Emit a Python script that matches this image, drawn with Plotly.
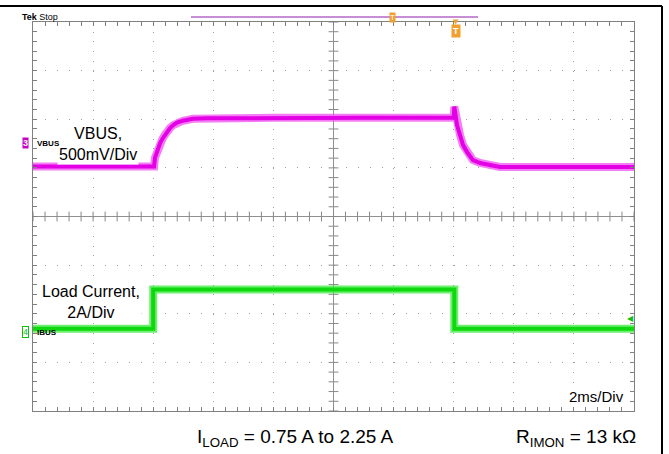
import plotly.graph_objects as go
import numpy as np

# ---- data (time in ms, amplitude in screen divisions from bottom) ----
vbus_t = [0, 4.03, 4.06, 4.15, 4.23, 4.31, 4.39, 4.47, 4.56, 4.67, 4.79, 4.99, 5.32, 5.79, 8.0, 11.0, 14.0,
          14.02, 14.11, 14.21, 14.31, 14.44, 14.64, 14.88, 15.21, 15.54, 20]
vbus_div = [5.03, 5.03, 5.21, 5.38, 5.51, 5.60, 5.68, 5.76, 5.82, 5.88, 5.93, 5.97, 6.01, 6.02, 6.03, 6.03, 6.03,
            6.26, 5.88, 5.68, 5.47, 5.33, 5.16, 5.10, 5.05, 5.02, 5.02]

ibus_t = [0, 4.0, 4.0, 14.02, 14.02, 20]
ibus_div = [1.69, 1.69, 2.50, 2.50, 1.69, 1.69]

ch3_ref = 5.51
ch4_ref = 1.62

X0, X1, Y0, Y1 = 33, 634, 22, 411
W, H = 669, 454
def px(x):
    return (x - X0) / (X1 - X0)
def py(y):
    return (Y1 - y) / (Y1 - Y0)

fig = go.Figure()

# center-line minor ticks
minor_y = np.arange(0, 8.001, 0.2)
minor_x = np.arange(0, 20.001, 0.4)
fig.add_trace(go.Scatter(x=[10]*len(minor_y), y=minor_y, mode="markers",
                         marker=dict(symbol="line-ew", size=7, line=dict(color="#888888", width=1)),
                         hoverinfo="skip", showlegend=False))
fig.add_trace(go.Scatter(x=minor_x, y=[4]*len(minor_x), mode="markers",
                         marker=dict(symbol="line-ns", size=7, line=dict(color="#888888", width=1)),
                         hoverinfo="skip", showlegend=False))

# VBUS (halo + core)
fig.add_trace(go.Scatter(x=vbus_t, y=vbus_div, mode="lines",
                         line=dict(color="rgba(240,80,240,0.75)", width=8), hoverinfo="skip", showlegend=False))
fig.add_trace(go.Scatter(x=vbus_t, y=vbus_div, mode="lines", name="VBUS",
                         line=dict(color="#e400e4", width=4), showlegend=False))
# IBUS (halo + core)
fig.add_trace(go.Scatter(x=ibus_t, y=ibus_div, mode="lines",
                         line=dict(color="rgba(60,235,60,0.75)", width=8), hoverinfo="skip", showlegend=False))
fig.add_trace(go.Scatter(x=ibus_t, y=ibus_div, mode="lines", name="IBUS",
                         line=dict(color="#10d810", width=4), showlegend=False))

fig.add_shape(type="line", x0=10, x1=10, y0=0, y1=8, line=dict(color="#909090", width=1), layer="below")
fig.add_shape(type="line", x0=0, x1=20, y0=4, y1=4, line=dict(color="#909090", width=1), layer="below")

# outer frame lines
fig.add_shape(type="line", xref="paper", yref="paper", x0=px(0), x1=px(662), y0=py(6), y1=py(6),
              line=dict(color="black", width=2))
fig.add_shape(type="line", xref="paper", yref="paper", x0=px(662), x1=px(662), y0=py(6), y1=py(454),
              line=dict(color="black", width=2))
# purple record bar
fig.add_shape(type="line", xref="paper", yref="paper", x0=px(191), x1=px(478), y0=py(17), y1=py(17),
              line=dict(color="#b468c8", width=1.5))

def A(**kw):
    d = dict(showarrow=False, yanchor="middle", xanchor="center")
    d.update(kw)
    return d

ann = []
ann.append(A(xref="paper", yref="paper", x=px(20), y=py(17), xanchor="left",
             text="<b>Tek</b> Stop", font=dict(family="Liberation Sans", size=9, color="black")))
# trigger markers
ann.append(A(xref="paper", yref="paper", x=px(392), y=py(18), text="T",
             font=dict(family="Liberation Sans", size=8, color="white"), bgcolor="#f0a030", borderpad=0))
ann.append(A(xref="paper", yref="paper", x=px(456), y=py(22.5), text="▼",
             font=dict(family="DejaVu Sans", size=7, color="#f0a030")))
ann.append(A(xref="paper", yref="paper", x=px(456), y=py(31.5), text="<b>T</b>",
             font=dict(family="Liberation Sans", size=9, color="white"), bgcolor="#f0a030", borderpad=1))
# labels
ann.append(A(xref="paper", yref="paper", x=px(98), y=py(144), text="VBUS,<br>500mV/Div",
             font=dict(family="Liberation Sans", size=16, color="black"), bgcolor="white", align="center"))
ann.append(A(xref="paper", yref="paper", x=px(91), y=py(302), text="Load Current,<br>2A/Div",
             font=dict(family="Liberation Sans", size=16, color="black"), bgcolor="white", align="center"))
ann.append(A(xref="paper", yref="paper", x=px(596), y=py(396), text="2ms/Div",
             font=dict(family="Liberation Sans", size=15, color="black")))
ann.append(A(xref="paper", yref="paper", x=px(195), y=py(438), xanchor="left", text="I<sub>LOAD</sub> = 0.75 A to 2.25 A",
             font=dict(family="Liberation Sans", size=19, color="black")))
ann.append(A(xref="paper", yref="paper", x=px(638), y=py(438), xanchor="right", text="R<sub>IMON</sub> = 13 kΩ",
             font=dict(family="Liberation Sans", size=19, color="black")))
# channel markers (drawn last, on top)
ann.append(A(xref="paper", yref="y", x=px(25), y=ch3_ref, text="<b>3</b>",
             font=dict(family="Liberation Sans", size=9, color="white"), bgcolor="#c800c8", borderpad=0))
ann.append(A(xref="paper", yref="y", x=px(35), y=ch3_ref, xanchor="left", text="<b>VBUS</b>",
             font=dict(family="Liberation Sans", size=8, color="black")))
ann.append(A(xref="paper", yref="y", x=px(25), y=ch4_ref, text="4",
             font=dict(family="Liberation Sans", size=9, color="#10c010"), bgcolor="white",
             bordercolor="#10c010", borderwidth=1, borderpad=0))
ann.append(A(xref="paper", yref="y", x=px(35), y=ch4_ref, xanchor="left", text="<b>IBUS</b>",
             font=dict(family="Liberation Sans", size=8, color="black")))
ann.append(A(xref="paper", yref="paper", x=px(630), y=py(318), text="◀",
             font=dict(family="DejaVu Sans", size=8, color="#10c010")))

axis_common = dict(showticklabels=False, zeroline=False, showline=True, linecolor="#808080", linewidth=1,
                   mirror="allticks", ticks="inside", ticklen=4, tickcolor="#808080",
                   showgrid=True, gridcolor="#a0a0a0", gridwidth=1)
fig.update_layout(
    width=W, height=H, margin=dict(l=X0, r=W - X1, t=Y0, b=H - Y1),
    paper_bgcolor="white", plot_bgcolor="white",
    xaxis=dict(range=[0, 20], dtick=2, griddash="1px,8.725px",
               minor=dict(dtick=0.4, ticks="inside", ticklen=4, tickcolor="#808080", showgrid=False),
               **axis_common),
    yaxis=dict(range=[0, 8], dtick=1, griddash="1px,11.02px",
               minor=dict(dtick=0.2, ticks="inside", ticklen=4, tickcolor="#808080", showgrid=False),
               **axis_common),
    annotations=ann,
    showlegend=False,
)
fig.write_html("out.html", config={"displayModeBar": False},
               post_script="document.body.style.margin='0';")
